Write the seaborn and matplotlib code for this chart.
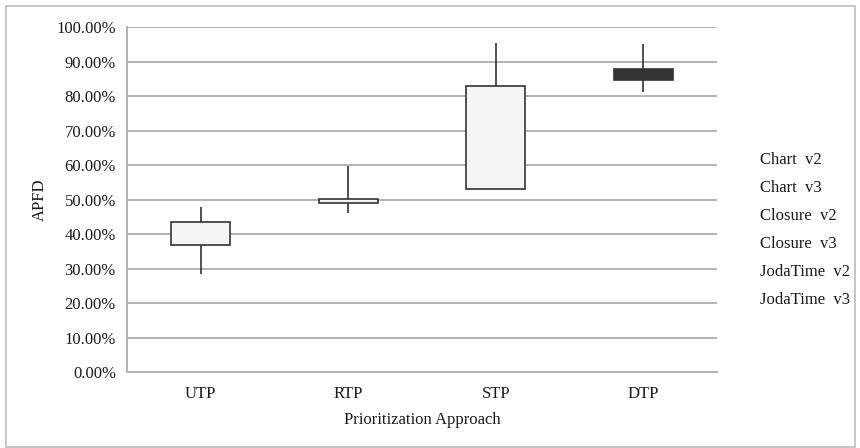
import matplotlib
matplotlib.use("Agg")
import matplotlib.pyplot as plt
import seaborn as sns
import numpy as np
import pandas as pd
from matplotlib.lines import Line2D
from matplotlib.patches import Rectangle
from matplotlib.ticker import PercentFormatter, FixedLocator

# ---- data ----
approaches = ["UTP", "RTP", "STP", "DTP"]
whisker_low = [0.283, 0.460, 0.530, 0.813]
box_low = [0.368, 0.490, 0.530, 0.847]
box_high = [0.436, 0.502, 0.830, 0.877]
whisker_high = [0.477, 0.598, 0.955, 0.950]
box_colors = ["#f5f5f5", "#f5f5f5", "#f5f5f5", "#333333"]
series_labels = ["Chart  v2", "Chart  v3", "Closure  v2", "Closure  v3",
                 "JodaTime  v2", "JodaTime  v3"]
y_ticks = [0.0, 0.1, 0.2, 0.3, 0.4, 0.5, 0.6, 0.7, 0.8, 0.9, 1.0]

df = pd.DataFrame({
    "approach": approaches,
    "low": box_low,
    "span": np.array(box_high) - np.array(box_low),
})

sns.set_theme(style="white")
plt.rcParams["font.family"] = ["Liberation Serif", "DejaVu Serif"]
FS = 12

fig = plt.figure(figsize=(8.6, 4.48), dpi=100)
ax = fig.add_axes([127/860, 76/448, (717-127)/860, (421-76)/448])

grid_c = "#b3b3b3"
txt_c = "#1a1a1a"
for yv in y_ticks[1:]:
    ax.axhline(yv, color=grid_c, lw=1.4, zorder=0)

# whiskers
ax.vlines(range(len(approaches)), whisker_low, whisker_high,
          color="#333333", lw=1.2, zorder=2)

# boxes
sns.barplot(data=df, x="approach", y="span", bottom=df["low"], ax=ax,
            color="#f5f5f5", width=0.4, edgecolor="#333333", linewidth=1.2,
            saturation=1, zorder=3, errorbar=None, order=approaches)
for patch, c in zip(ax.patches, box_colors):
    patch.set_facecolor(c)

ax.set_xlim(-0.5, 3.5)
ax.set_ylim(0, 1)
ax.yaxis.set_major_locator(FixedLocator(y_ticks))
ax.yaxis.set_major_formatter(PercentFormatter(xmax=1, decimals=2))
ax.set_xticks(range(len(approaches)))
ax.set_xticklabels(approaches)
ax.set_xticks(np.arange(-0.5, 4.0, 1.0), minor=True)
ax.tick_params(axis="x", which="major", length=0, pad=10, labelsize=FS, labelcolor=txt_c)
ax.tick_params(axis="x", which="minor", length=4, width=1, color=grid_c, direction="out")
ax.tick_params(axis="y", which="major", length=5, width=1, color=grid_c, direction="out",
               pad=3, labelsize=FS, labelcolor=txt_c)

for s in ["top", "right"]:
    ax.spines[s].set_visible(False)
for s in ["left", "bottom"]:
    ax.spines[s].set_color(grid_c)
    ax.spines[s].set_linewidth(1.4)

ax.set_xlabel("Prioritization Approach", fontsize=FS, color=txt_c, labelpad=7)
ax.set_ylabel("APFD", fontsize=FS, color=txt_c, labelpad=6)

handles = [Line2D([], [], color="none") for _ in series_labels]
leg = fig.legend(handles, series_labels, loc="upper left",
                 bbox_to_anchor=(745/860, 1 - 137/448), frameon=False,
                 handlelength=0, handletextpad=0, labelspacing=0.72,
                 fontsize=FS)
for t in leg.get_texts():
    t.set_color(txt_c)

fig.patches.append(Rectangle((6/860, 1.5/448), (855-6)/860, (442-1.5)/448,
                             transform=fig.transFigure, fill=False,
                             edgecolor="#bbbbbb", lw=1.2))

fig.savefig("out.png", dpi=100)
